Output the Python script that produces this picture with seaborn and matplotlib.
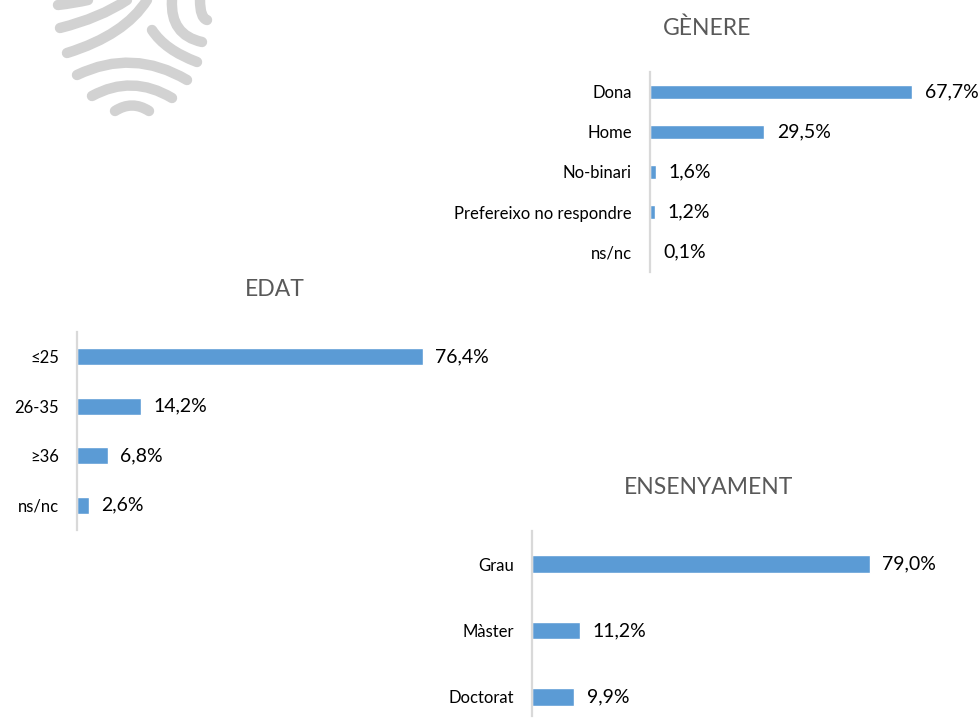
import numpy as np
import matplotlib
matplotlib.use("Agg")
import matplotlib.pyplot as plt
from matplotlib.path import Path
from matplotlib.patches import PathPatch
import seaborn as sns

# data
genere_cats = ["Dona", "Home", "No-binari", "Prefereixo no respondre", "ns/nc"]
genere_vals = [67.7, 29.5, 1.6, 1.2, 0.1]

edat_cats = ["≤25", "26-35", "≥36", "ns/nc"]
edat_vals = [76.4, 14.2, 6.8, 2.6]

ens_cats = ["Grau", "Màster", "Doctorat"]
ens_vals = [79.0, 11.2, 9.9]

BAR = "#5B9BD5"
AXC = "#D9D9D9"
TITLE_C = "#595959"

sns.set_style("white")
plt.rcParams["font.family"] = ["Lato", "DejaVu Sans"]

W, H = 980, 723
fig = plt.figure(figsize=(W / 100, H / 100), dpi=100)


def px_box(left, top, width, height):
    return [left / W, 1 - (top + height) / H, width / W, height / H]


def fmt(v):
    return f"{v:.1f}".replace(".", ",") + "%"


def panel(rect, cats, vals, bar_w, ylim, title, title_xy):
    ax = fig.add_axes(rect)
    sns.barplot(x=vals, y=cats, orient="h", color=BAR, width=bar_w,
                saturation=1, ax=ax)
    ax.set_xlim(0, 80)
    ax.set_ylim(*ylim)
    for s in ["top", "right", "bottom"]:
        ax.spines[s].set_visible(False)
    ax.spines["left"].set_color(AXC)
    ax.spines["left"].set_linewidth(1.6)
    ax.set_xticks([])
    ax.set_xlabel("")
    ax.set_ylabel("")
    ax.tick_params(axis="y", length=0, pad=13, labelsize=12, labelcolor="#000000")
    ax.bar_label(ax.containers[0], labels=[fmt(v) for v in vals],
                 padding=9, fontsize=14, color="#000000", clip_on=False)
    ax.patch.set_alpha(0)
    fig.text(title_xy[0] / W, 1 - title_xy[1] / H, title, ha="center",
             va="center", fontsize=16.5, color=TITLE_C)
    return ax


# fingerprint watermark (decoration, top-left)
wm = fig.add_axes([0, 0, 1, 1])
wm.set_xlim(0, W)
wm.set_ylim(H, 0)
wm.axis("off")
strokes = [
    [(58, 5), (75, 3), (88, 0)],
    [(60, 28), (100, 18), (127, 0)],
    [(67, 53), (125, 35), (147, 0)],
    [(77, 75), (133, 48), (187, 80)],
    [(92, 96), (132, 74), (172, 98)],
    [(115, 111), (132, 100), (149, 111)],
    [(152, 30), (165, 50), (197, 62)],
    [(172, 0), (170, 35), (202, 42)],
    [(200, 0), (200, 18), (207, 20)],
]
for st in strokes:
    p = Path(st, [Path.MOVETO, Path.CURVE3, Path.CURVE3])
    wm.add_patch(PathPatch(p, fill=False, edgecolor="#D2D2D2", lw=7.5,
                           capstyle="round", joinstyle="round"))

panel(px_box(650, 72, 310, 200), genere_cats, genere_vals, 0.35,
      (4.5, -0.5), "GÈNERE", (707, 28))
panel(px_box(77, 332, 362, 198), edat_cats, edat_vals, 0.35,
      (3.5, -0.5), "EDAT", (275, 289))
panel(px_box(532, 531, 342, 185), ens_cats, ens_vals, 0.27,
      (2.29, -0.5), "ENSENYAMENT", (709, 487))

fig.savefig("out.png", dpi=100)
